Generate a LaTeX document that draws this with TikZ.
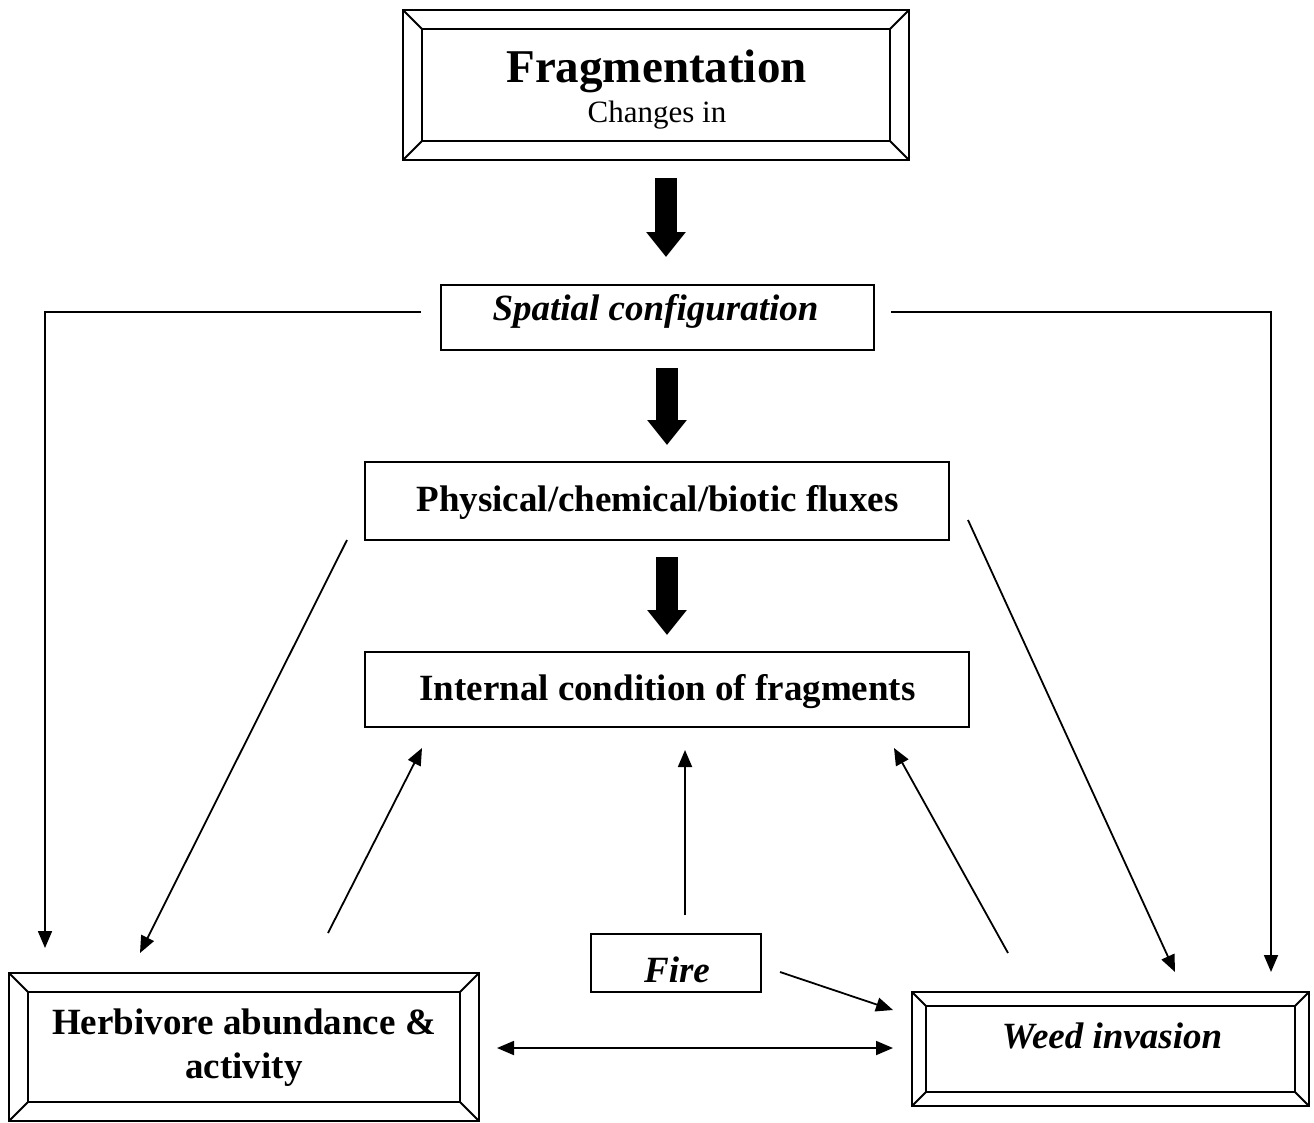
\documentclass[tikz,border=0pt]{standalone}
\usepackage{fontspec}
\setmainfont{Liberation Serif}
\usetikzlibrary{arrows.meta,calc}
\newcommand\mybevel[2]{%
  \draw[framebox] ($(#1.north west)+(#2,#2)$) rectangle ($(#1.south east)+(-#2,-#2)$);
  \draw[framebox] (#1.north west) -- ++(#2,#2);
  \draw[framebox] (#1.north east) -- ++(-#2,#2);
  \draw[framebox] (#1.south west) -- ++(#2,-#2);
  \draw[framebox] (#1.south east) -- ++(-#2,-#2);
}
\begin{document}
\begin{tikzpicture}[x=1pt,y=-1pt,
  framebox/.style={line width=1.9pt, line join=miter},
  box/.style={draw, rectangle, inner sep=0pt, outer sep=0pt, line width=1.9pt},
  lbl/.style={anchor=base, font=\fontsize{37}{43}\selectfont\bfseries},
  ilbl/.style={anchor=base, font=\fontsize{37}{43}\selectfont\bfseries\itshape},
  conn/.style={line width=1.8pt, -{Triangle[length=17pt,width=14pt]}},
  dconn/.style={line width=1.8pt, {Triangle[length=17pt,width=14pt]}-{Triangle[length=17pt,width=14pt]}},
  blockarrow/.style={line width=22pt, -{Triangle[length=25pt,width=38pt]}}
  ]
\useasboundingbox (0,0) rectangle (1314,1122);

% boxes
\node[box, minimum width=506pt, minimum height=150pt] (frag) at (656,85) {};
\mybevel{frag}{19}
\node[lbl, font=\fontsize{47}{50}\selectfont\bfseries] (fragt) at (656.5,82) {Fragmentation};
\node[anchor=base, font=\fontsize{31}{34}\selectfont] (fragc) at (657,122) {Changes in};

\node[box, minimum width=433pt, minimum height=65pt] (spat) at (657.5,317.5) {};
\node[ilbl] (spatt) at (655.5,320) {Spatial configuration};

\node[box, minimum width=584pt, minimum height=78pt] (phys) at (657,501) {};
\node[lbl] (physt) at (657.5,511) {Physical/chemical/biotic fluxes};

\node[box, minimum width=604pt, minimum height=75pt] (intern) at (667,689.5) {};
\node[lbl] (internt) at (667.5,700) {Internal condition of fragments};

\node[box, minimum width=170pt, minimum height=58pt] (fire) at (676,963) {};
\node[ilbl] (firet) at (677,982) {Fire};

\node[box, minimum width=470pt, minimum height=148pt] (herb) at (244,1047) {};
\mybevel{herb}{19}
\node[lbl] (herbt1) at (244,1034) {Herbivore abundance \&};
\node[lbl] (herbt2) at (244,1078) {activity};

\node[box, minimum width=397pt, minimum height=114pt] (weed) at (1110.5,1049) {};
\mybevel{weed}{14}
\node[ilbl] (weedt) at (1112,1048) {Weed invasion};

% block arrows
\coordinate (b1s) at (666,178);  \coordinate (b1e) at (666,257);
\coordinate (b2s) at (667,368);  \coordinate (b2e) at (667,445);
\coordinate (b3s) at (667,557);  \coordinate (b3e) at (667,635);
\draw[blockarrow] (b1s) -- (b1e);
\draw[blockarrow] (b2s) -- (b2e);
\draw[blockarrow] (b3s) -- (b3e);

% connectors
\coordinate (sl) at (421,312); \coordinate (slc) at (45,312); \coordinate (sle) at (45,948);
\draw[conn] (sl) -- (slc) -- (sle);
\coordinate (sr) at (891,312); \coordinate (src) at (1271,312); \coordinate (sre) at (1271,972);
\draw[conn] (sr) -- (src) -- (sre);
\coordinate (pl) at (347,540); \coordinate (ple) at (140,953);
\draw[conn] (pl) -- (ple);
\coordinate (pr) at (968,520); \coordinate (pre) at (1175,972);
\draw[conn] (pr) -- (pre);
\coordinate (hi) at (328,933); \coordinate (hie) at (422,748);
\draw[conn] (hi) -- (hie);
\coordinate (fu) at (685,915); \coordinate (fue) at (685,750);
\draw[conn] (fu) -- (fue);
\coordinate (wi) at (1008,953); \coordinate (wie) at (894,748);
\draw[conn] (wi) -- (wie);
\coordinate (fw) at (780,972); \coordinate (fwe) at (893,1010);
\draw[conn] (fw) -- (fwe);
\coordinate (hw1) at (497,1048); \coordinate (hw2) at (893,1048);
\draw[dconn] (hw1) -- (hw2);
\end{tikzpicture}
\end{document}
